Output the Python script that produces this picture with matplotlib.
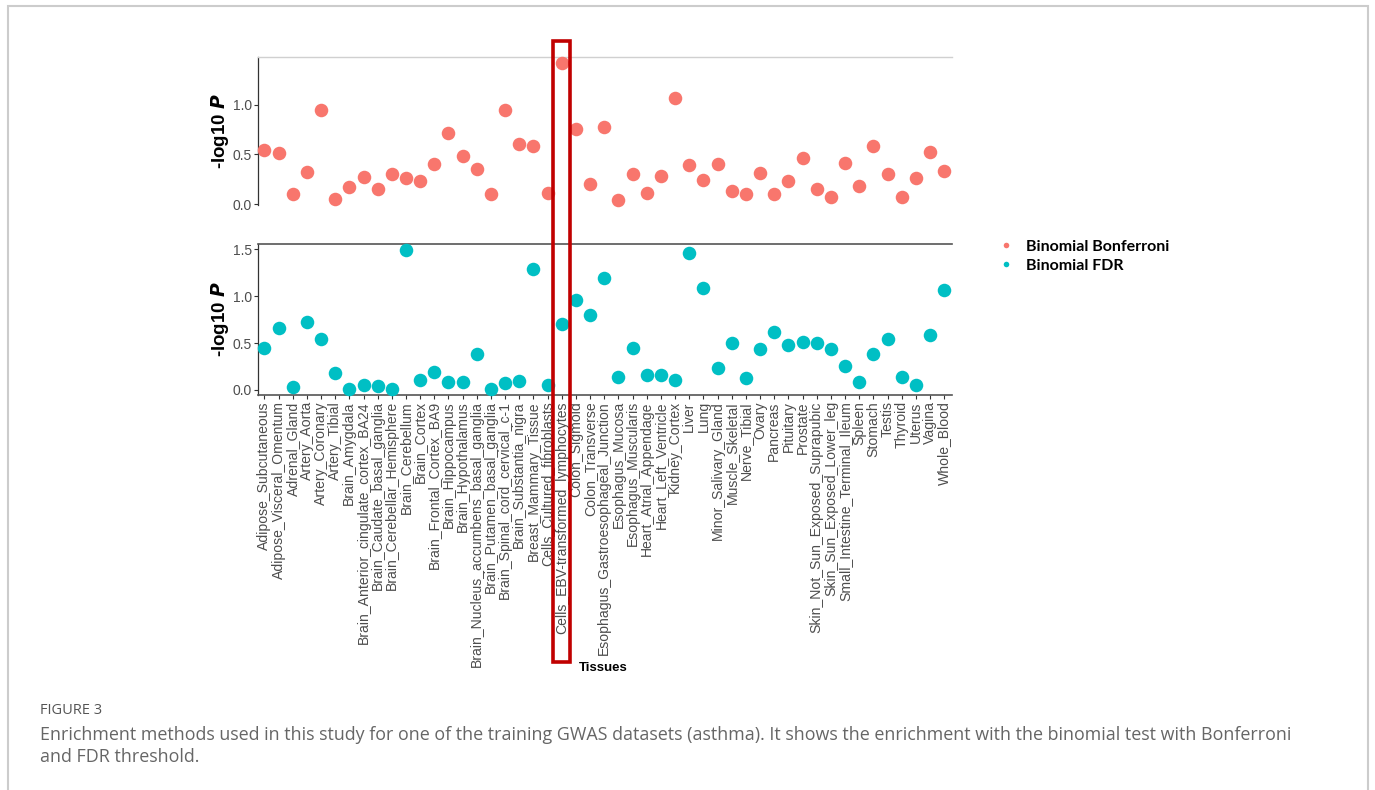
import matplotlib
matplotlib.use("Agg")
import matplotlib.pyplot as plt
from matplotlib.patches import Rectangle
from matplotlib.transforms import blended_transform_factory
from matplotlib.lines import Line2D

tissues = [
    "Adipose_Subcutaneous", "Adipose_Visceral_Omentum", "Adrenal_Gland", "Artery_Aorta",
    "Artery_Coronary", "Artery_Tibial", "Brain_Amygdala", "Brain_Anterior_cingulate_cortex_BA24",
    "Brain_Caudate_basal_ganglia", "Brain_Cerebellar_Hemisphere", "Brain_Cerebellum", "Brain_Cortex",
    "Brain_Frontal_Cortex_BA9", "Brain_Hippocampus", "Brain_Hypothalamus",
    "Brain_Nucleus_accumbens_basal_ganglia", "Brain_Putamen_basal_ganglia",
    "Brain_Spinal_cord_cervical_c-1", "Brain_Substantia_nigra", "Breast_Mammary_Tissue",
    "Cells_Cultured_fibroblasts", "Cells_EBV-transformed_lymphocytes", "Colon_Sigmoid",
    "Colon_Transverse", "Esophagus_Gastroesophageal_Junction", "Esophagus_Mucosa",
    "Esophagus_Muscularis", "Heart_Atrial_Appendage", "Heart_Left_Ventricle", "Kidney_Cortex",
    "Liver", "Lung", "Minor_Salivary_Gland", "Muscle_Skeletal", "Nerve_Tibial", "Ovary",
    "Pancreas", "Pituitary", "Prostate", "Skin_Not_Sun_Exposed_Suprapubic",
    "Skin_Sun_Exposed_Lower_leg", "Small_Intestine_Terminal_Ileum", "Spleen", "Stomach",
    "Testis", "Thyroid", "Uterus", "Vagina", "Whole_Blood",
]

bonferroni = [
    0.54, 0.51, 0.10, 0.32, 0.95, 0.05, 0.17, 0.27, 0.15, 0.30,
    0.26, 0.23, 0.40, 0.71, 0.48, 0.35, 0.10, 0.95, 0.60, 0.58,
    0.11, 1.42, 0.76, 0.20, 0.78, 0.04, 0.30, 0.11, 0.28, 1.07,
    0.39, 0.24, 0.40, 0.13, 0.10, 0.31, 0.10, 0.23, 0.46, 0.15,
    0.07, 0.41, 0.18, 0.58, 0.30, 0.07, 0.26, 0.52, 0.33,
]

fdr = [
    0.45, 0.66, 0.03, 0.72, 0.54, 0.18, 0.01, 0.05, 0.04, 0.01,
    1.49, 0.11, 0.19, 0.08, 0.08, 0.38, 0.01, 0.07, 0.09, 1.29,
    0.05, 0.70, 0.96, 0.80, 1.19, 0.14, 0.45, 0.16, 0.16, 0.11,
    1.46, 1.09, 0.23, 0.50, 0.13, 0.44, 0.62, 0.48, 0.51, 0.50,
    0.44, 0.26, 0.08, 0.38, 0.54, 0.14, 0.05, 0.59, 1.07,
]

highlight = "Cells_EBV-transformed_lymphocytes"
series_names = ["Binomial Bonferroni", "Binomial FDR"]
colors = ["#F8766D", "#00BFC4"]
top_ticks = [0.0, 0.5, 1.0]
bottom_ticks = [0.0, 0.5, 1.0, 1.5]
caption_title = "FIGURE 3"
caption_lines = [
    "Enrichment methods used in this study for one of the training GWAS datasets (asthma). It shows the enrichment with the binomial test with Bonferroni",
    "and FDR threshold.",
]

W, H = 1375, 790
fig = plt.figure(figsize=(W / 100, H / 100), dpi=100)
plt.rcParams["font.family"] = ["Liberation Sans", "DejaVu Sans"]

def fx(px):
    return px / W

def fy(py):
    return 1 - py / H

# outer frame
frame = Rectangle((fx(8), fy(800)), fx(1368) - fx(8), fy(6) - fy(800),
                  transform=fig.transFigure, fill=False, edgecolor="#cccccc", linewidth=1.5)
fig.add_artist(frame)

x = list(range(len(tissues)))
xlim = (-0.45, len(tissues) - 0.45)
tick_col = "#4d4d4d"
spine_col = "#333333"

L, R = 258, 952
ax1 = fig.add_axes([fx(L), fy(205), fx(R) - fx(L), fy(57) - fy(205)])
ax2 = fig.add_axes([fx(L), fy(395), fx(R) - fx(L), fy(244) - fy(395)])

ms = 95
ax1.scatter(x, bonferroni, s=ms, color=colors[0], linewidths=0, clip_on=False, zorder=3)
ax2.scatter(x, fdr, s=ms, color=colors[1], linewidths=0, clip_on=False, zorder=3)

for ax in (ax1, ax2):
    ax.set_xlim(*xlim)
    ax.set_facecolor("none")
    ax.tick_params(axis="y", length=3, width=0.8, color=spine_col, labelcolor=tick_col,
                   labelsize=10, pad=1.5)
    ax.spines["left"].set_color(spine_col)
    ax.spines["left"].set_linewidth(0.9)
    ax.spines["right"].set_visible(False)
    ax.set_ylabel("-log10 $\\bfit{P}$", fontsize=13.5, fontweight="bold")
    ax.yaxis.set_label_coords(-(L - 231) / (R - L), 0.5)

ax1.set_ylim(-0.01, 1.48)
ax1.set_yticks(top_ticks)
ax1.set_yticklabels([f"{t:.1f}" for t in top_ticks])
ax1.set_xticks([])
ax1.spines["bottom"].set_visible(False)
ax1.spines["top"].set_color("#d0d0d0")
ax1.spines["top"].set_linewidth(1.0)

ax2.set_ylim(-0.054, 1.556)
ax2.set_yticks(bottom_ticks)
ax2.set_yticklabels([f"{t:.1f}" for t in bottom_ticks])
ax2.set_xticks(x)
ax2.set_xticklabels(tissues, rotation=90, fontsize=10.1, color=tick_col)
ax2.tick_params(axis="x", length=3, width=0.8, color=spine_col, pad=1.5)
for s in ("bottom", "top"):
    ax2.spines[s].set_color("#555555")
    ax2.spines[s].set_linewidth(1.2)
ax2.set_xlabel("Tissues", fontsize=9.5, fontweight="bold")
ax2.xaxis.set_label_coords((603 - L) / (R - L), (395 - 668) / (395 - 244))
ax2.xaxis.label.set_verticalalignment("center")

# highlight rectangle around the highlighted tissue
hi = tissues.index(highlight)
tr = blended_transform_factory(ax2.transData, fig.transFigure)
rect = Rectangle((hi - 0.6, fy(662)), 1.2, fy(41) - fy(662), transform=tr,
                 fill=False, edgecolor="#C00000", linewidth=2.6, zorder=10)
fig.add_artist(rect)

# legend
handles = [Line2D([0], [0], marker="o", linestyle="none", markersize=4,
                  markerfacecolor=c, markeredgewidth=0) for c in colors]
leg = fig.legend(handles, series_names, loc="center left",
                 bbox_to_anchor=(fx(984), fy(256)), frameon=False,
                 prop={"family": ["Lato", "DejaVu Sans"], "weight": "bold", "size": 11.5},
                 handletextpad=0.75, labelspacing=0.3, handlelength=1.0)

# caption
cap_font = ["Open Sans", "DejaVu Sans"]
fig.text(fx(40), fy(710), caption_title, fontsize=10.5, color="#555555",
         family=cap_font, va="center", ha="left")
for i, line in enumerate(caption_lines):
    fig.text(fx(40), fy(735 + 22 * i), line, fontsize=12.85, color="#666666",
             family=cap_font, va="center", ha="left")

fig.savefig("out.png", dpi=100, facecolor="white")
